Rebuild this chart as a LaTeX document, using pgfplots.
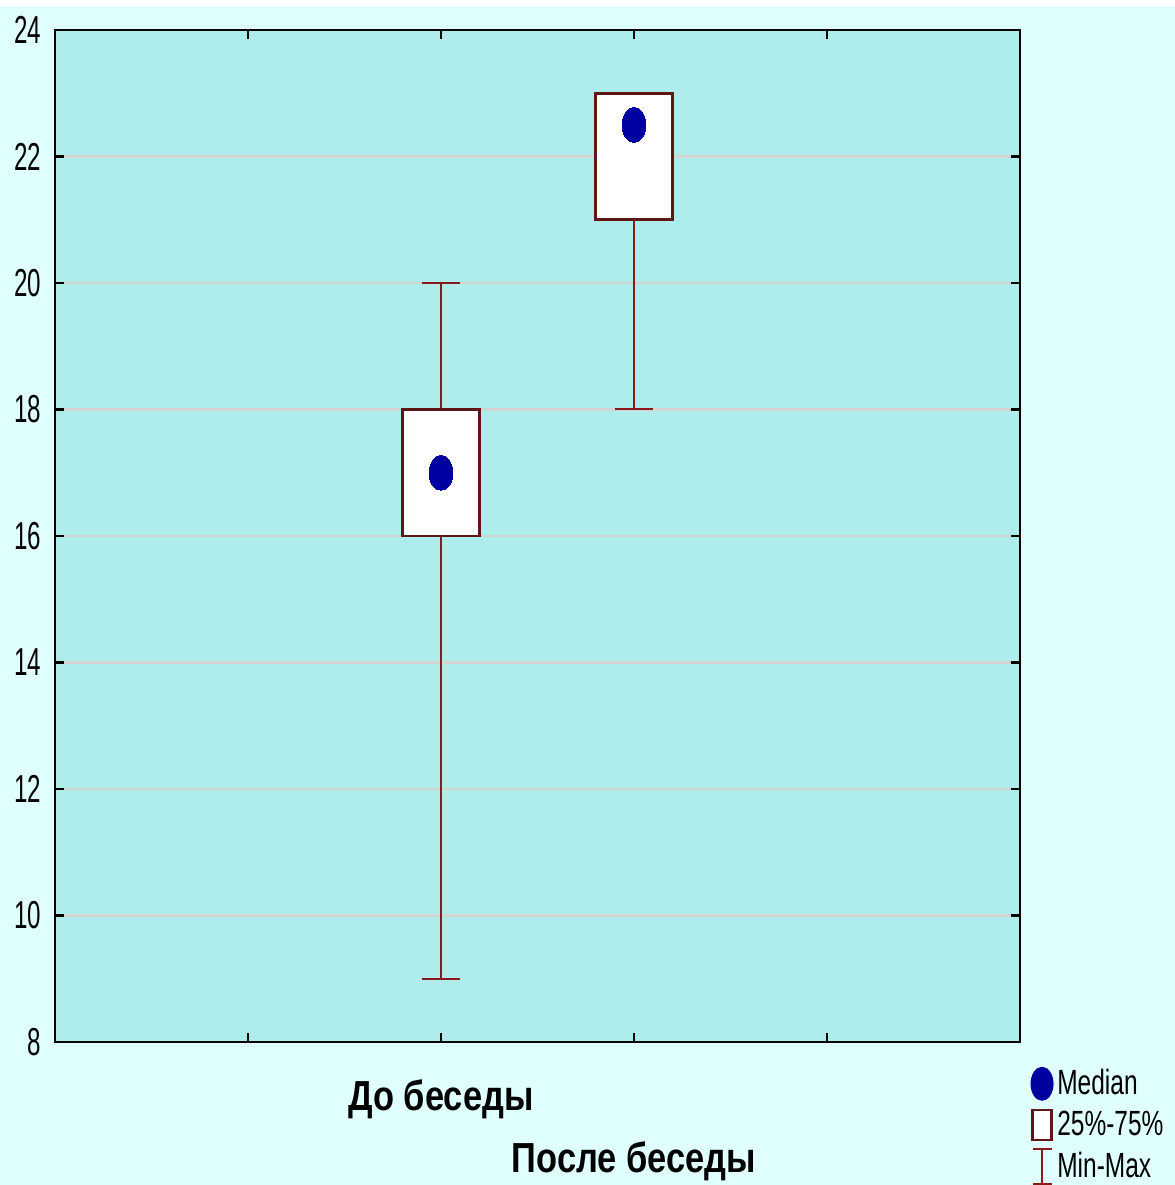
\documentclass[border=0pt]{standalone}
\usepackage{fontspec}
\setmainfont{Liberation Sans}
\newfontfamily\narrowfont[FakeStretch=0.62]{Liberation Sans}
\newfontfamily\legfont[FakeStretch=0.7]{Liberation Sans}
\newfontfamily\labfont[FakeStretch=0.82]{Liberation Sans}
\usepackage{pgfplots}
\pgfplotsset{compat=1.18}
\usepgfplotslibrary{statistics}

\definecolor{outerbg}{HTML}{E0FFFF}
\definecolor{plotbg}{HTML}{AFEDED}
\definecolor{gridc}{HTML}{D3D3D3}
\definecolor{boxred}{HTML}{5E1616}
\definecolor{whisk}{HTML}{8B1A1A}
\definecolor{mblue}{HTML}{0000A0}

\begin{document}
\begin{tikzpicture}
% page background (1 px of the reference = 0.4pt)
\fill[outerbg] (-22pt,-57.2pt) rectangle (448pt,414.4pt);
\fill[white] (-22pt,414.4pt) rectangle (448pt,416.8pt);

\begin{axis}[
    at={(0,0)}, anchor=south west,
    scale only axis,
    width=386pt, height=404.8pt,
    xmin=0, xmax=5,
    ymin=8, ymax=24,
    xtick={1,2,3,4}, xticklabels={},
    ytick={8,10,...,24},
    tick pos=both,
    tick align=inside,
    major tick length=3.5pt,
    ymajorgrids,
    grid style={gridc, line width=1pt},
    axis background/.style={fill=plotbg},
    axis line style={black, line width=1pt},
    tick style={black, line width=1pt},
    /pgf/number format/assume math mode=true,
    yticklabel style={font=\narrowfont\fontsize{15.6}{16}\selectfont, xshift=-2pt},
    clip=false,
    legend style={at={(1.0104,-0.0227)}, anchor=north west, draw=none, fill=none,
        inner sep=0pt, row sep=2pt,
        font=\legfont\fontsize{14}{14}\selectfont,
        nodes={inner sep=1.5pt}},
    legend cell align=left,
    boxplot/draw direction=y,
    boxplot/every box/.style={draw=boxred, fill=white, line width=1.1pt},
    boxplot/every whisker/.style={whisk, line width=0.8pt},
    boxplot/every median/.style={draw=none},
]

% До беседы
\addplot[forget plot, boxplot prepared={draw position=2,
    lower whisker=9, lower quartile=16, median=17,
    upper quartile=18, upper whisker=20,
    box extend=0.4, whisker extend=0.2}] coordinates {};

% После беседы
\addplot[forget plot, boxplot prepared={draw position=3,
    lower whisker=18, lower quartile=21, median=22.5,
    upper quartile=23, upper whisker=23,
    box extend=0.4, whisker extend=0.2}] coordinates {};

% medians
\addplot[forget plot, only marks, mark=*, mark size=7pt,
    mark options={fill=mblue, draw=mblue, line width=0pt, xscale=0.68}]
    coordinates {(2,17) (3,22.5)};

\addlegendimage{legend image code/.code={
    \fill[mblue] (3.8pt,0pt) ellipse [x radius=4.4pt, y radius=6.6pt];}}
\addlegendentry{Median}
\addlegendimage{legend image code/.code={
    \draw[boxred, fill=white, line width=1pt] (0pt,-6pt) rectangle (7.6pt,6pt);}}
\addlegendentry{25\%-75\%}
\addlegendimage{legend image code/.code={
    \draw[whisk, line width=0.8pt] (0pt,-7pt) -- (7.6pt,-7pt)
        (3.8pt,-7pt) -- (3.8pt,7pt) (0pt,7pt) -- (7.6pt,7pt);}}
\addlegendentry{Min-Max}

\node[font=\labfont\bfseries\fontsize{16.8}{17}\selectfont, anchor=base,
    yshift=-27.2pt] at (axis cs:2,8) {До беседы};
\node[font=\labfont\bfseries\fontsize{16.8}{17}\selectfont, anchor=base,
    yshift=-52pt] at (axis cs:3,8) {После беседы};
\end{axis}

\pgfresetboundingbox
\useasboundingbox (-22pt,-57.2pt) rectangle (448pt,416.8pt);
\end{tikzpicture}
\end{document}
